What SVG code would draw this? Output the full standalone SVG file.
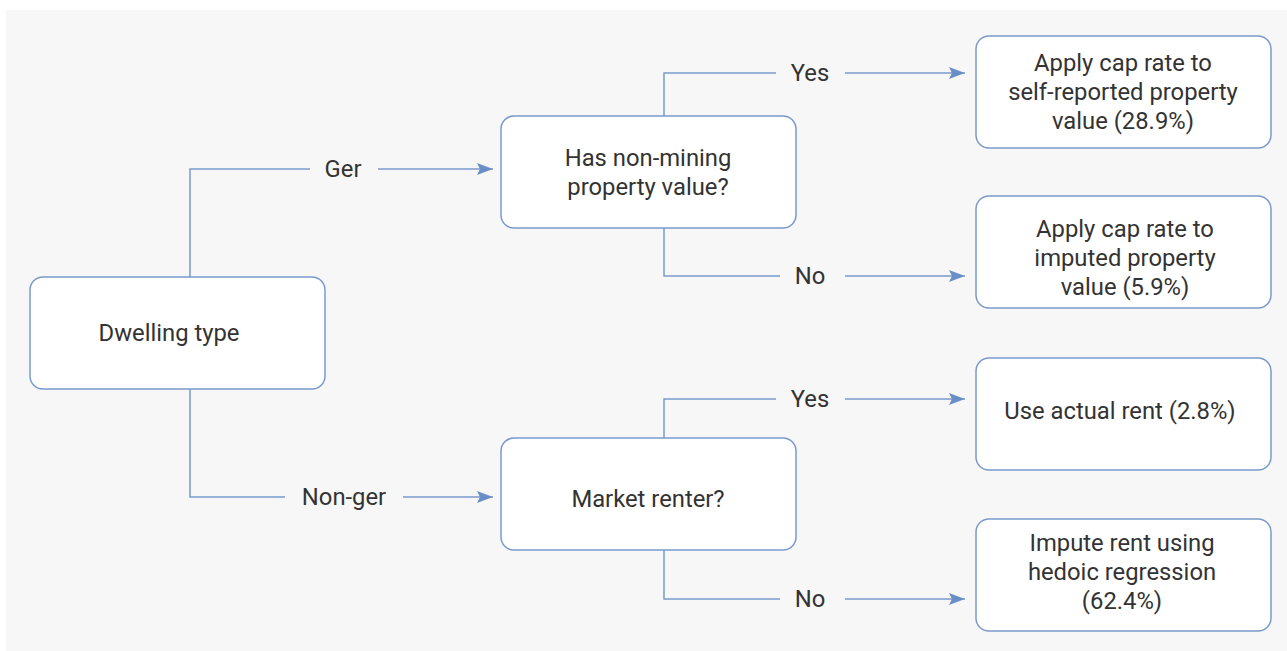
<svg xmlns="http://www.w3.org/2000/svg" width="1287" height="651" viewBox="0 0 1287 651">
  <style>
    .box { fill: #ffffff; stroke: #7a9acb; stroke-width: 1.5; }
    .txt { font-family: Roboto, "Liberation Sans", sans-serif; font-size: 23.8px; fill: #333333; text-anchor: middle; }
    .lbl { font-family: Roboto, "Liberation Sans", sans-serif; font-size: 23.8px; fill: #333333; text-anchor: middle; }
    .wire { fill: none; stroke: #7a9acb; stroke-width: 1.5; }
  </style>
  <defs>
    <marker id="arrow" viewBox="0 0 16 12" refX="16" refY="6" markerWidth="16" markerHeight="12" markerUnits="userSpaceOnUse" orient="auto">
      <path d="M0,0 L16,6 L0,12 L3,6 Z" fill="#6a8fc6"/>
    </marker>
  </defs>

  <rect x="6" y="10" width="1281" height="641" fill="#f7f7f7"/>

  <g id="connectors">
    <!-- Dwelling type to Ger / Non-ger -->
    <polyline class="wire" points="190,277 190,169 310,169"/>
    <line class="wire" x1="378" y1="169" x2="493" y2="169" marker-end="url(#arrow)"/>
    <text class="lbl" x="343" y="177">Ger</text>
    <polyline class="wire" points="190,389 190,497 285,497"/>
    <line class="wire" x1="403" y1="497" x2="493" y2="497" marker-end="url(#arrow)"/>
    <text class="lbl" x="344" y="505">Non-ger</text>

    <!-- Has non-mining property value? -->
    <polyline class="wire" points="664,116 664,73 776,73"/>
    <line class="wire" x1="845" y1="73" x2="965" y2="73" marker-end="url(#arrow)"/>
    <text class="lbl" x="810" y="81">Yes</text>
    <polyline class="wire" points="664,228 664,276 780,276"/>
    <line class="wire" x1="845" y1="276" x2="965" y2="276" marker-end="url(#arrow)"/>
    <text class="lbl" x="810" y="284">No</text>

    <!-- Market renter? -->
    <polyline class="wire" points="664,438 664,399 776,399"/>
    <line class="wire" x1="845" y1="399" x2="965" y2="399" marker-end="url(#arrow)"/>
    <text class="lbl" x="810" y="407">Yes</text>
    <polyline class="wire" points="664,550 664,599 780,599"/>
    <line class="wire" x1="845" y1="599" x2="965" y2="599" marker-end="url(#arrow)"/>
    <text class="lbl" x="810" y="607">No</text>
  </g>

  <g id="dwelling-type">
    <rect class="box" x="30" y="277" width="295" height="112" rx="13"/>
    <text class="txt" x="169" y="341">Dwelling type</text>
  </g>

  <g id="has-property-value">
    <rect class="box" x="501" y="116" width="295" height="112" rx="13"/>
    <text class="txt" x="648" y="166">Has non-mining</text>
    <text class="txt" x="648" y="195">property value?</text>
  </g>

  <g id="market-renter">
    <rect class="box" x="501" y="438" width="295" height="112" rx="13"/>
    <text class="txt" x="648" y="507">Market renter?</text>
  </g>

  <g id="self-reported">
    <rect class="box" x="976" y="36" width="295" height="112" rx="13"/>
    <text class="txt" x="1123" y="71">Apply cap rate to</text>
    <text class="txt" x="1123" y="100">self-reported property</text>
    <text class="txt" x="1123" y="129">value (28.9%)</text>
  </g>

  <g id="imputed-value">
    <rect class="box" x="976" y="196" width="295" height="112" rx="13"/>
    <text class="txt" x="1125" y="237">Apply cap rate to</text>
    <text class="txt" x="1125" y="266">imputed property</text>
    <text class="txt" x="1125" y="295">value (5.9%)</text>
  </g>

  <g id="actual-rent">
    <rect class="box" x="976" y="358" width="295" height="112" rx="13"/>
    <text class="txt" x="1120" y="419">Use actual rent (2.8%)</text>
  </g>

  <g id="hedonic-rent">
    <rect class="box" x="976" y="519" width="295" height="112" rx="13"/>
    <text class="txt" x="1122" y="551">Impute rent using</text>
    <text class="txt" x="1122" y="580">hedoic regression</text>
    <text class="txt" x="1122" y="609">(62.4%)</text>
  </g>
</svg>
